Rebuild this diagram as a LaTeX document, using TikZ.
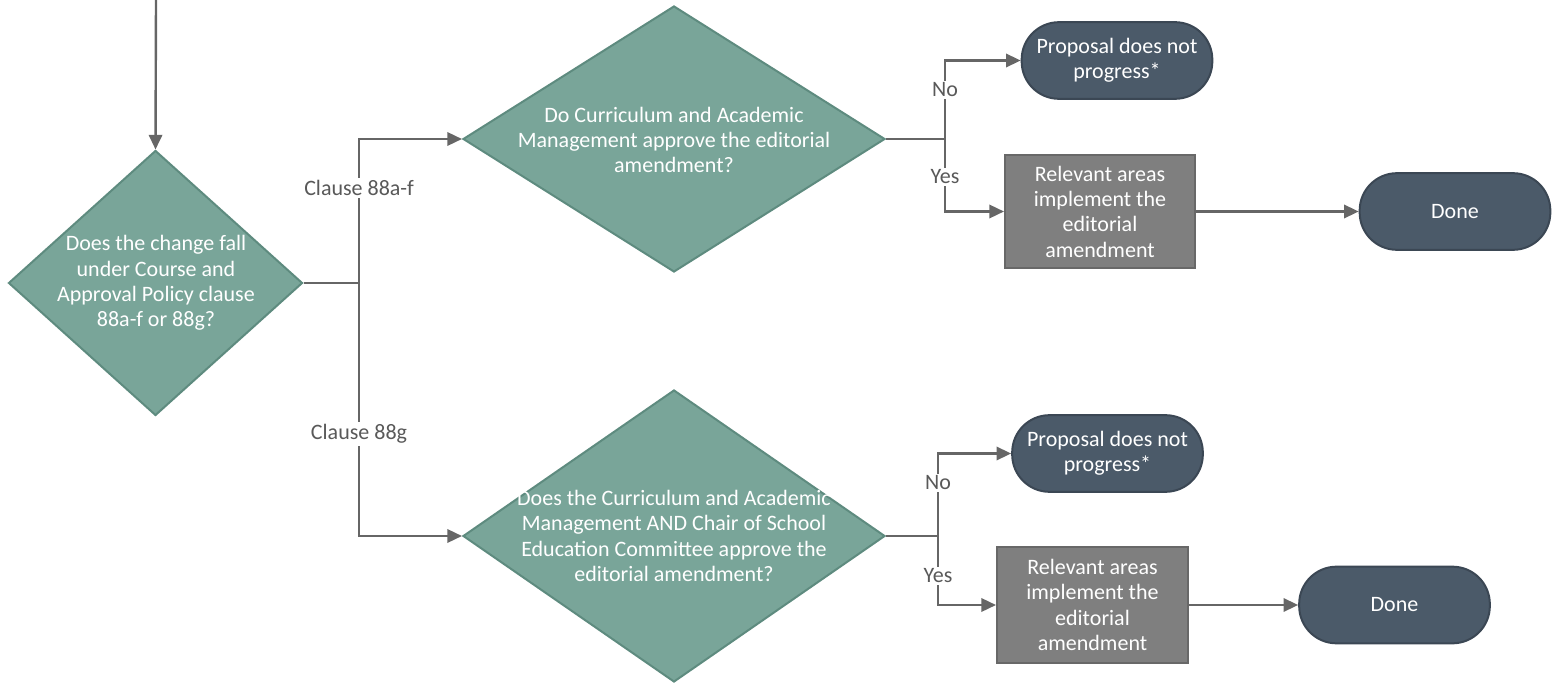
\documentclass[tikz,border=0pt]{standalone}
\usepackage{fontspec}
\setmainfont{Carlito}
\usetikzlibrary{arrows.meta,shapes.geometric}
\definecolor{dfill}{HTML}{79A599}
\definecolor{dline}{HTML}{5E8B7F}
\definecolor{tfill}{HTML}{4B5A69}
\definecolor{tline}{HTML}{3B4754}
\definecolor{pfill}{HTML}{7F7F7F}
\definecolor{pline}{HTML}{686868}
\definecolor{cline}{HTML}{666666}
\definecolor{ltext}{HTML}{595959}
\begin{document}
\begin{tikzpicture}[x=0.75pt,y=-0.75pt,
  dia/.style={diamond, draw=dline, fill=dfill, line width=1.5pt, inner sep=0pt},
  txt/.style={text=white, align=center, font=\fontsize{16.5}{19}\selectfont},
  term/.style={rectangle, rounded corners=28pt, draw=tline, fill=tfill, line width=1.5pt,
    minimum width=143pt, minimum height=57.5pt, inner sep=0pt, txt},
  proc/.style={rectangle, draw=pline, fill=pfill, line width=1.5pt, inner sep=0pt, txt},
  conn/.style={draw=cline, line width=1.8pt},
  arr/.style={conn, -{Triangle[length=11pt,width=10pt]}},
  lbl/.style={fill=white, text=ltext, inner sep=1.5pt, font=\fontsize{16.5}{19}\selectfont}]
\useasboundingbox (0,0) rectangle (1553,684);

% decision nodes
\node[dia, minimum width=220.5pt, minimum height=198.75pt] (d1) at (155.5,283) {};
\node[txt] (d1t) at (156,283) {Does the change fall\\under Course and\\Approval Policy clause\\88a-f or 88g?};
\node[dia, minimum width=316.5pt, minimum height=199.5pt] (d2) at (674,139) {};
\node[txt] (d2t) at (674,140) {Do Curriculum and Academic\\Management approve the editorial\\amendment?};
\node[dia, minimum width=316.5pt, minimum height=219pt] (d3) at (674,536) {};
\node[txt] (d3t) at (674,536) {Does the Curriculum and Academic\\Management AND Chair of School\\Education Committee approve the\\editorial amendment?};

% terminals
\node[term] (p1) at (1117,60.5) {Proposal does not\\progress*};
\node[term] (o1) at (1455,211.5) {Done};
\node[term] (p2) at (1107.5,453.5) {Proposal does not\\progress*};
\node[term] (o2) at (1394.5,605) {Done};

% process boxes
\node[proc, minimum width=142.5pt, minimum height=84.75pt] (r1) at (1100,211.5) {Relevant areas\\implement the\\editorial\\amendment};
\node[proc, minimum width=143.25pt, minimum height=87pt] (r2) at (1092.5,605) {Relevant areas\\implement the\\editorial\\amendment};

% junctions
\coordinate (start) at (156,0);
\coordinate (j1) at (359,283);
\coordinate (j2) at (945,139);
\coordinate (j3) at (938,536);

% connectors
\draw[arr] (start) -- (d1.north);
\draw[conn] (d1.east) -- (j1);
\draw[arr] (j1) |- (d2.west);
\draw[arr] (j1) |- (d3.west);
\draw[conn] (d2.east) -- (j2);
\draw[arr] (j2) |- (p1.west);
\draw[arr] (j2) |- (r1.west);
\draw[arr] (r1.east) -- (o1.west);
\draw[conn] (d3.east) -- (j3);
\draw[arr] (j3) |- (p2.west);
\draw[arr] (j3) |- (r2.west);
\draw[arr] (r2.east) -- (o2.west);

% labels
\node[lbl] (l1) at (359,188) {Clause 88a-f};
\node[lbl] (l2) at (359,434) {Clause 88g};
\node[lbl] (l3) at (945,90) {No};
\node[lbl] (l4) at (945,177) {Yes};
\node[lbl] (l5) at (938,483) {No};
\node[lbl] (l6) at (938,576) {Yes};
\end{tikzpicture}
\end{document}
